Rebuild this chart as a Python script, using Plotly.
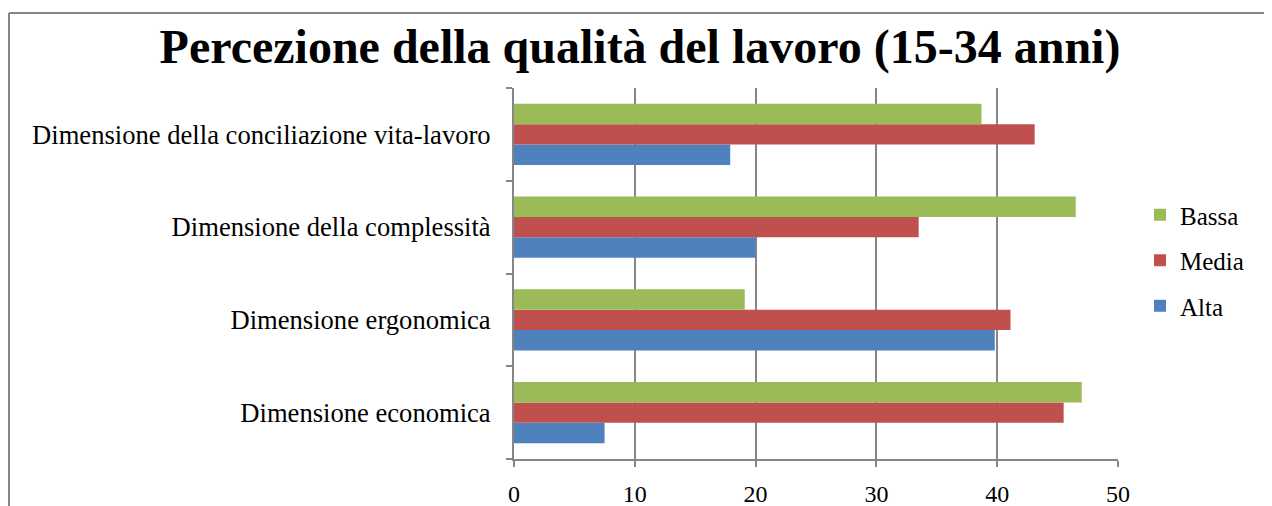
import plotly.graph_objects as go

categories = ["Dimensione economica", "Dimensione ergonomica",
              "Dimensione della complessità", "Dimensione della conciliazione vita-lavoro"]
alta = [7.5, 39.8, 20.0, 17.9]
media = [45.5, 41.1, 33.5, 43.1]
bassa = [47.0, 19.1, 46.5, 38.7]
x_ticks = [0, 10, 20, 30, 40, 50]
title_text = "Percezione della qualità del lavoro (15-34 anni)"

FONT = "Liberation Serif, Times New Roman, serif"
OFF = 8  # page body margin
W, H = 1272 - OFF, 506 - OFF
L, R, T, B = 514 - OFF, 1118 - OFF, 88 - OFF, 459 - OFF

fig = go.Figure()
for name, vals, col, grp, rank in [("Alta", alta, "#4F81BD", "c", 3),
                                   ("Media", media, "#C0504D", "b", 2),
                                   ("Bassa", bassa, "#9BBB59", "a", 1)]:
    fig.add_trace(go.Bar(y=categories, x=vals, name=name, orientation="h",
                         marker=dict(color=col, line=dict(width=0)),
                         legendgroup=grp, legendrank=rank))

def px_x(p):
    return (p - OFF - L) / (R - L)

def px_y(p):
    return (B - (p - OFF)) / (B - T)

fig.update_layout(
    width=W, height=H,
    margin=dict(l=L, r=W - R, t=T, b=H - B, autoexpand=False),
    paper_bgcolor="white", plot_bgcolor="white",
    barmode="group", bargap=0.34, bargroupgap=0,
    font=dict(family=FONT, size=24, color="black"),
    title=dict(text="<b>" + title_text + "</b>", x=(640 - OFF) / W, xanchor="center",
               y=1 - (46 - OFF) / H, yanchor="middle", xref="container", yref="container",
               font=dict(family=FONT, size=48, color="black")),
    showlegend=True,
    legend=dict(x=px_x(1140), xanchor="left", y=px_y(192), yanchor="top",
                traceorder="grouped", tracegroupgap=10,
                font=dict(family=FONT, size=25), itemwidth=30,
                bgcolor="rgba(0,0,0,0)"),
    xaxis=dict(range=[0, 50], tickvals=x_ticks, showgrid=True, gridcolor="#868686",
               gridwidth=1.5, zeroline=False, showline=True, linecolor="#868686",
               linewidth=2, ticks="outside", ticklen=6, tickcolor="#868686",
               tickwidth=1.5, ticklabelstandoff=6,
               tickfont=dict(family=FONT, size=24)),
    yaxis=dict(type="category", categoryorder="array", categoryarray=categories,
               range=[-0.5, 3.5], showline=True, linecolor="#868686", linewidth=2,
               ticks="outside", tickson="boundaries", ticklen=6, tickcolor="#868686",
               tickwidth=1.5, showgrid=False, ticklabelstandoff=16,
               tickfont=dict(family=FONT, size=26.6)),
)

# outer chart border (top and left edges visible)
fig.add_shape(type="line", xref="paper", yref="paper",
              x0=px_x(9), x1=px_x(1290), y0=px_y(13), y1=px_y(13),
              line=dict(color="#868686", width=2))
fig.add_shape(type="line", xref="paper", yref="paper",
              x0=px_x(9), x1=px_x(9), y0=px_y(13), y1=px_y(520),
              line=dict(color="#868686", width=2))

fig.write_html("out.html")
